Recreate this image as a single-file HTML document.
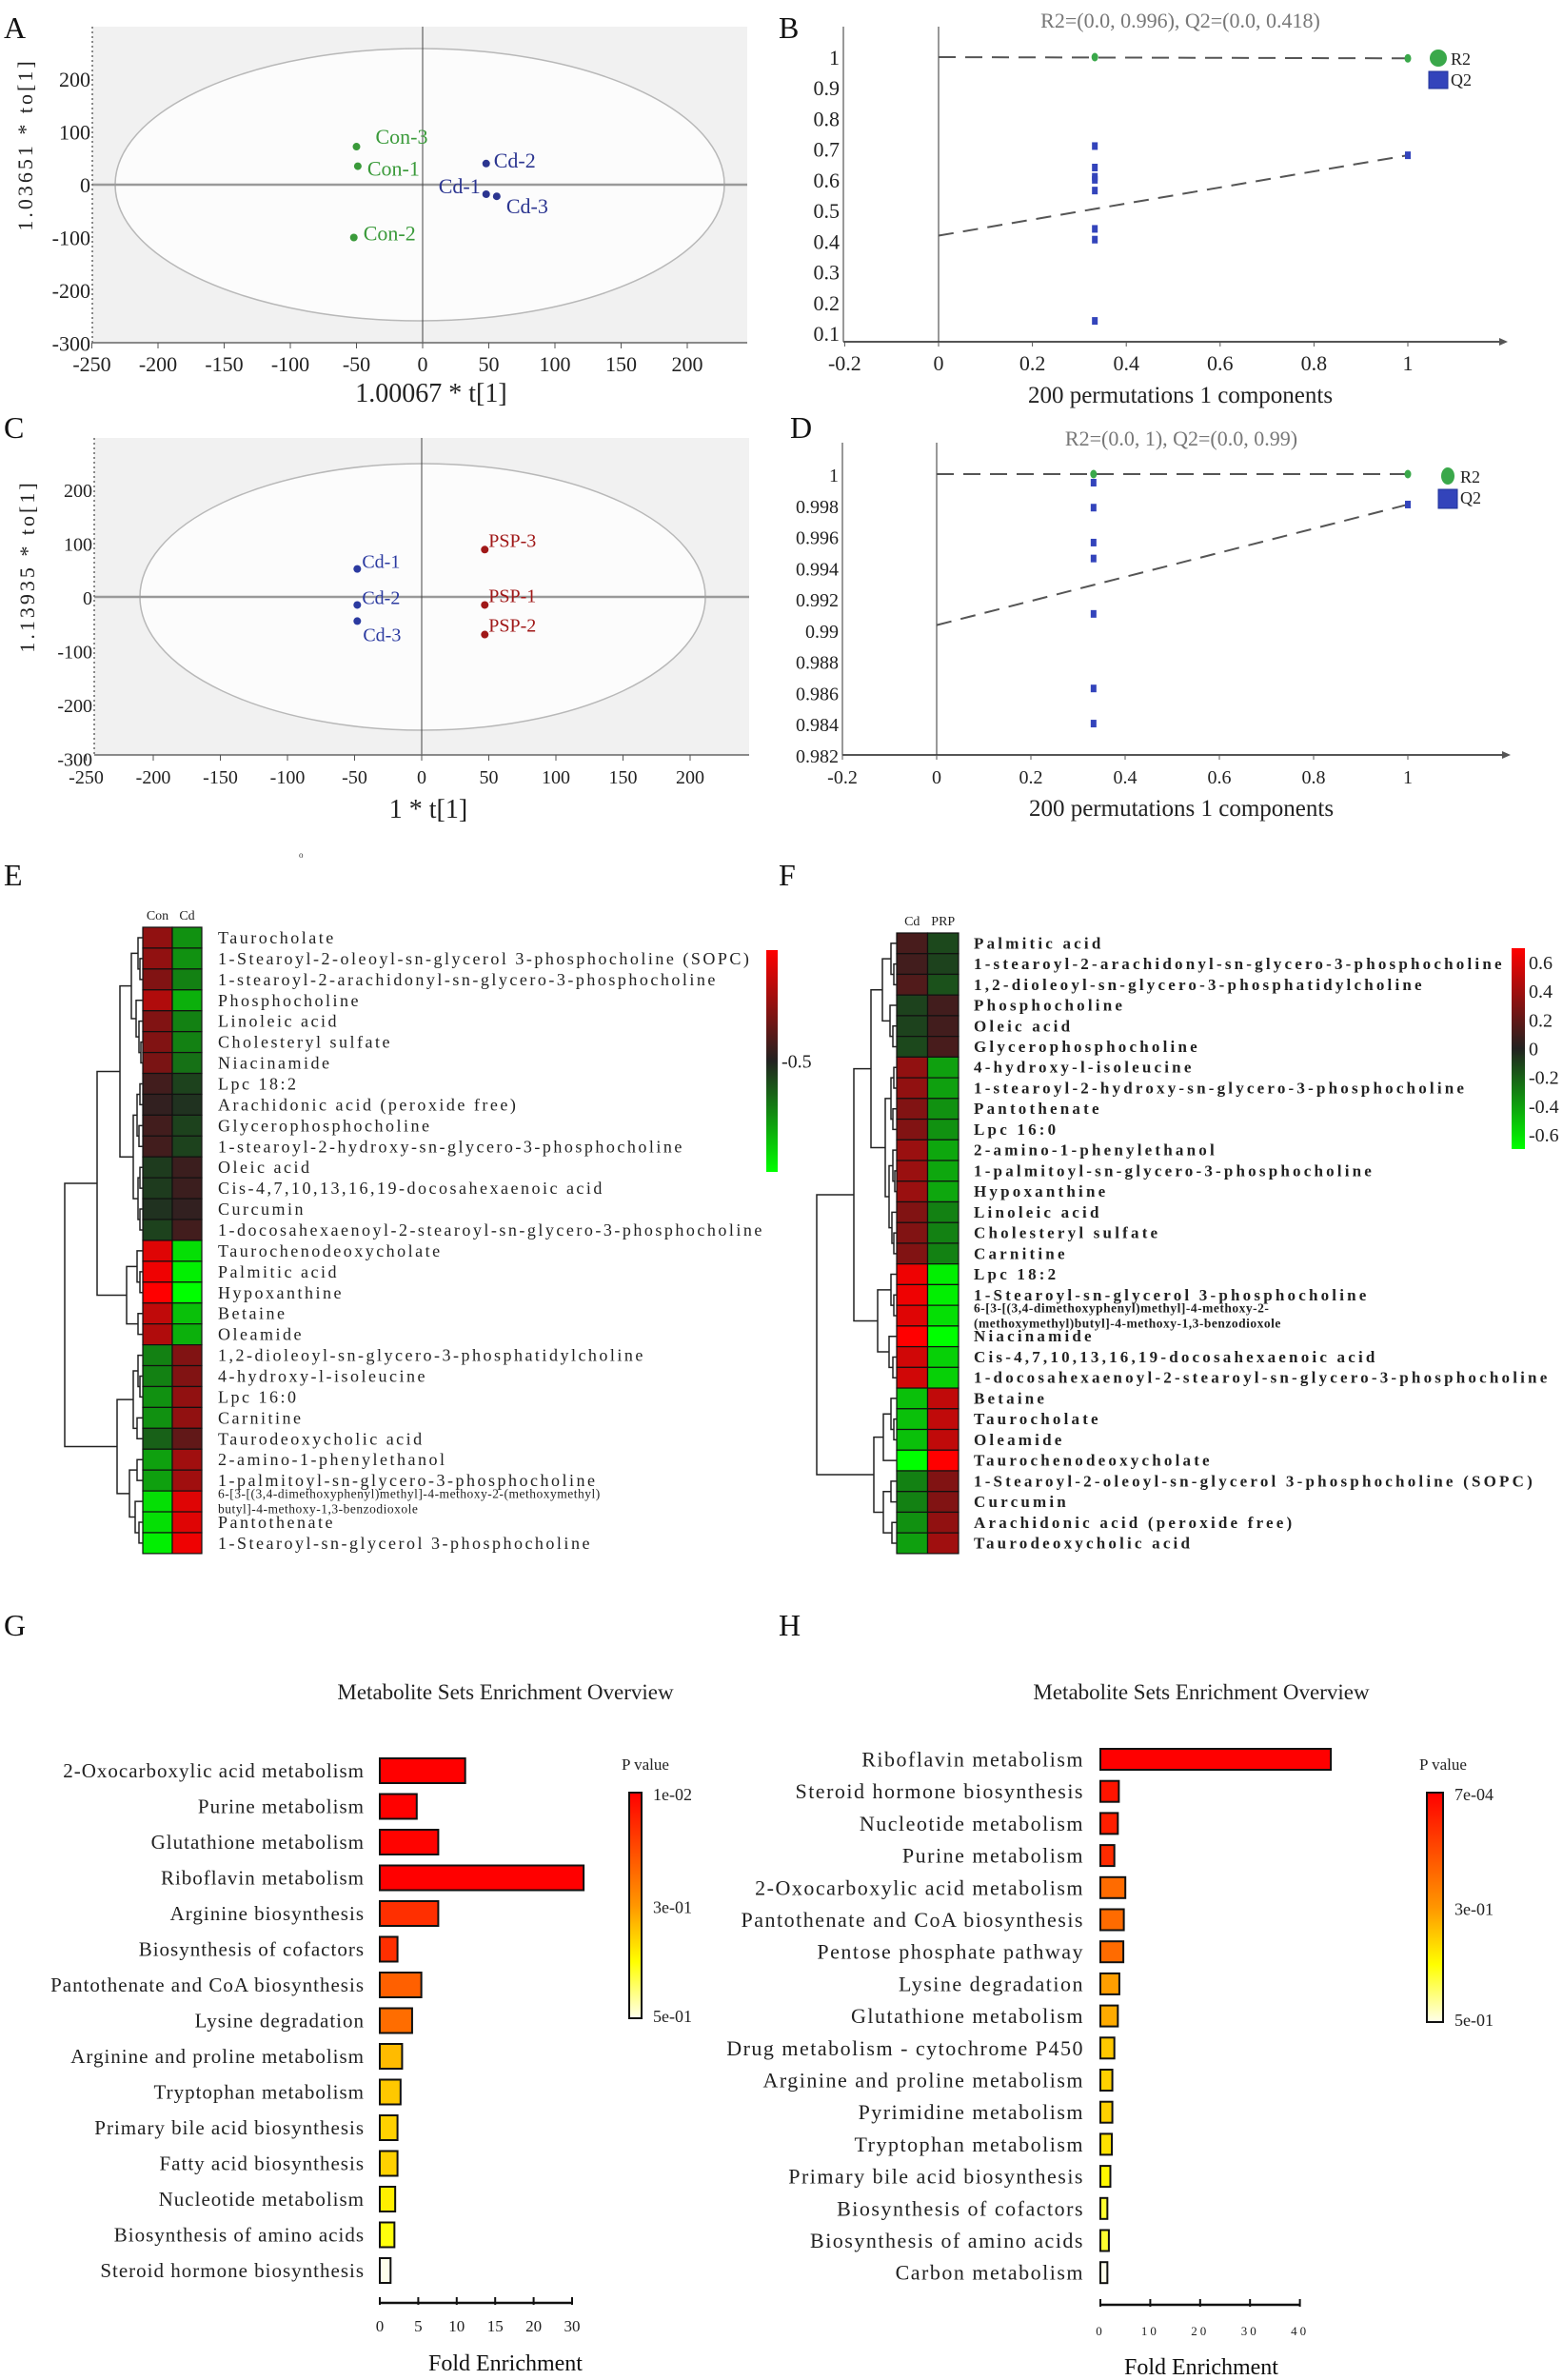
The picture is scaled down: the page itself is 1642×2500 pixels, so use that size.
<!DOCTYPE html>
<html><head><meta charset="utf-8"><title>Metabolomics figure</title>
<style>
html,body{margin:0;padding:0;background:#fff;}
svg{display:block;font-family:"Liberation Serif",serif;}
</style></head>
<body>
<svg id="fig" xmlns="http://www.w3.org/2000/svg" width="1642" height="2500" viewBox="0 0 1642 2500">
<defs>
<linearGradient id="gHeat" x1="0" y1="0" x2="0" y2="1">
<stop offset="0" stop-color="#ff0000"/><stop offset="0.5" stop-color="#222220"/><stop offset="1" stop-color="#00ff00"/>
</linearGradient>
<linearGradient id="gP" x1="0" y1="0" x2="0" y2="1">
<stop offset="0" stop-color="#ff0000"/><stop offset="0.5" stop-color="#ff9600"/><stop offset="0.75" stop-color="#ffff00"/><stop offset="1" stop-color="#ffffeb"/>
</linearGradient>
</defs>
<g font-size="32" fill="#111">
<text x="4" y="40">A</text>
<text x="818" y="40">B</text>
<text x="4" y="460">C</text>
<text x="830" y="460">D</text>
<text x="4" y="930">E</text>
<text x="818" y="930">F</text>
<text x="4" y="1718">G</text>
<text x="818" y="1718">H</text>
</g>
<text x="314" y="901" font-size="9" fill="#333">o</text>
</svg>
<script>
// ---------- DATA ----------
// Panel A (OPLS-DA scores)
const aLabels=['Con-3','Con-1','Con-2','Cd-2','Cd-1','Cd-3'];
const aX=[-50,-49,-52,48,48,56];
const aY=[72,35,-100,40,-18,-22];
const aGroup=['Con','Con','Con','Cd','Cd','Cd'];
const aXTicks=[-250,-200,-150,-100,-50,0,50,100,150,200];
const aYTicks=[200,100,0,-100,-200,-300];
// Panel C
const cLabels=['Cd-1','Cd-2','Cd-3','PSP-3','PSP-1','PSP-2'];
const cX=[-48,-48,-48,47,47,47];
const cY=[52,-15,-45,88,-15,-70];
const cGroup=['Cd','Cd','Cd','PSP','PSP','PSP'];
const cXTicks=[-250,-200,-150,-100,-50,0,50,100,150,200];
const cYTicks=[200,100,0,-100,-200,-300];
// Panel B (permutation)
const bR2X=[0.333,1];
const bR2Y=[1.0,0.996];
const bQ2X=[0.333,0.333,0.333,0.333,0.333,0.333,0.333,0.333,1];
const bQ2Y=[0.71,0.64,0.61,0.60,0.565,0.44,0.405,0.14,0.68];
const bR2Line=[1.0,0.996];
const bQ2Line=[0.418,0.68];
const bXTicks=[-0.2,0,0.2,0.4,0.6,0.8,1];
const bYTicks=[1,0.9,0.8,0.7,0.6,0.5,0.4,0.3,0.2,0.1];
// Panel D
const dR2X=[0.333,1];
const dR2Y=[1.0,1.0];
const dQ2X=[0.333,0.333,0.333,0.333,0.333,0.333,0.333,1];
const dQ2Y=[0.99945,0.99785,0.99561,0.99459,0.99104,0.98626,0.98401,0.99805];
const dR2Line=[1.0,1.0];
const dQ2Line=[0.99032,0.99805];
const dXTicks=[-0.2,0,0.2,0.4,0.6,0.8,1];
const dYTicks=[1,0.998,0.996,0.994,0.992,0.99,0.988,0.986,0.984,0.982];
// Panel E heatmap
const eNames=['Taurocholate','1-Stearoyl-2-oleoyl-sn-glycerol 3-phosphocholine (SOPC)','1-stearoyl-2-arachidonyl-sn-glycero-3-phosphocholine','Phosphocholine','Linoleic acid','Cholesteryl sulfate','Niacinamide','Lpc 18:2','Arachidonic acid (peroxide free)','Glycerophosphocholine','1-stearoyl-2-hydroxy-sn-glycero-3-phosphocholine','Oleic acid','Cis-4,7,10,13,16,19-docosahexaenoic acid','Curcumin','1-docosahexaenoyl-2-stearoyl-sn-glycero-3-phosphocholine','Taurochenodeoxycholate','Palmitic acid','Hypoxanthine','Betaine','Oleamide','1,2-dioleoyl-sn-glycero-3-phosphatidylcholine','4-hydroxy-l-isoleucine','Lpc 16:0','Carnitine','Taurodeoxycholic acid','2-amino-1-phenylethanol','1-palmitoyl-sn-glycero-3-phosphocholine','6-[3-[(3,4-dimethoxyphenyl)methyl]-4-methoxy-2-(methoxymethyl)|butyl]-4-methoxy-1,3-benzodioxole','Pantothenate','1-Stearoyl-sn-glycerol 3-phosphocholine'];
const eCon=[0.35,0.35,0.3,0.45,0.3,0.3,0.28,0.1,0.05,0.1,0.1,-0.08,-0.08,-0.05,-0.1,0.6,0.65,0.7,0.5,0.45,-0.3,-0.3,-0.35,-0.35,-0.2,-0.4,-0.4,-0.6,-0.6,-0.65];
const eCd=[-0.35,-0.35,-0.3,-0.45,-0.3,-0.3,-0.25,-0.1,-0.05,-0.1,-0.1,0.08,0.08,0.05,0.1,-0.6,-0.65,-0.7,-0.5,-0.45,0.3,0.3,0.35,0.35,0.2,0.4,0.4,0.6,0.6,0.65];
const eColumns=['Con','Cd'];
const eTree=[82,[48,[24,[12,[5,0,[3,1,2]],[7,3,[4,4,[2,5,6]]]],[10,[6,[3,7,8],[4,9,10]],[5,[3,11,12],[3,13,14]]]],[17,[6,15,[3,16,17]],[5,18,19]]],[27,[10,[5,20,[3,21,22]],[6,23,24]],[14,[6,25,26],[8,27,[4,28,29]]]]];
// Panel F heatmap
const fNames=['Palmitic acid','1-stearoyl-2-arachidonyl-sn-glycero-3-phosphocholine','1,2-dioleoyl-sn-glycero-3-phosphatidylcholine','Phosphocholine','Oleic acid','Glycerophosphocholine','4-hydroxy-l-isoleucine','1-stearoyl-2-hydroxy-sn-glycero-3-phosphocholine','Pantothenate','Lpc 16:0','2-amino-1-phenylethanol','1-palmitoyl-sn-glycero-3-phosphocholine','Hypoxanthine','Linoleic acid','Cholesteryl sulfate','Carnitine','Lpc 18:2','1-Stearoyl-sn-glycerol 3-phosphocholine','6-[3-[(3,4-dimethoxyphenyl)methyl]-4-methoxy-2-|(methoxymethyl)butyl]-4-methoxy-1,3-benzodioxole','Niacinamide','Cis-4,7,10,13,16,19-docosahexaenoic acid','1-docosahexaenoyl-2-stearoyl-sn-glycero-3-phosphocholine','Betaine','Taurocholate','Oleamide','Taurochenodeoxycholate','1-Stearoyl-2-oleoyl-sn-glycerol 3-phosphocholine (SOPC)','Curcumin','Arachidonic acid (peroxide free)','Taurodeoxycholic acid'];
const fCd=[0.12,0.1,0.15,-0.1,-0.1,-0.12,0.35,0.35,0.3,0.3,0.38,0.38,0.38,0.3,0.3,0.3,0.65,0.65,0.6,0.7,0.55,0.55,-0.5,-0.5,-0.5,-0.7,-0.3,-0.3,-0.35,-0.4];
const fPRP=[-0.12,-0.1,-0.15,0.1,0.1,0.12,-0.4,-0.4,-0.35,-0.35,-0.42,-0.42,-0.42,-0.3,-0.3,-0.3,-0.65,-0.65,-0.6,-0.7,-0.55,-0.55,0.5,0.5,0.5,0.7,0.3,0.3,0.35,0.4];
const fColumns=['Cd','PRP'];
const fTree=[84,[45,[27,[15,[6,0,[3,1,2]],[7,3,[4,4,5]]],[12,[6,[3,6,7],[4,8,9]],[8,[4,10,[2,11,12]],[5,13,[3,14,15]]]]],[20,[6,16,[3,17,18]],[8,19,[4,20,21]]]],[24,[14,[6,22,[3,23,24]],25],[14,[6,26,27],[5,28,29]]]];
const fScaleTicks=[0.6,0.4,0.2,0,-0.2,-0.4,-0.6];
// Panel G enrichment
const gNames=['2-Oxocarboxylic acid metabolism','Purine metabolism','Glutathione metabolism','Riboflavin metabolism','Arginine biosynthesis','Biosynthesis of cofactors','Pantothenate and CoA biosynthesis','Lysine degradation','Arginine and proline metabolism','Tryptophan metabolism','Primary bile acid biosynthesis','Fatty acid biosynthesis','Nucleotide metabolism','Biosynthesis of amino acids','Steroid hormone biosynthesis'];
const gFold=[11.1,4.8,7.6,33,7.6,2.3,5.4,4.2,2.9,2.7,2.3,2.3,2.0,1.9,1.4];
const gP=[0.01,0.012,0.015,0.01,0.1,0.1,0.195,0.22,0.335,0.348,0.356,0.356,0.385,0.405,0.5];
const gTicks=[0,5,10,15,20,30];
const gPLabels=['1e-02','3e-01','5e-01'];
// Panel H enrichment
const hNames=['Riboflavin metabolism','Steroid hormone biosynthesis','Nucleotide metabolism','Purine metabolism','2-Oxocarboxylic acid metabolism','Pantothenate and CoA biosynthesis','Pentose phosphate pathway','Lysine degradation','Glutathione metabolism','Drug metabolism - cytochrome P450','Arginine and proline metabolism','Pyrimidine metabolism','Tryptophan metabolism','Primary bile acid biosynthesis','Biosynthesis of cofactors','Biosynthesis of amino acids','Carbon metabolism'];
const hFold=[46.2,3.7,3.5,2.8,5.0,4.7,4.6,3.8,3.5,2.8,2.4,2.4,2.3,2.0,1.4,1.7,1.4];
const hP=[0.0007,0.04,0.06,0.087,0.215,0.215,0.215,0.308,0.32,0.348,0.356,0.356,0.372,0.392,0.42,0.42,0.5];
const hTicks=[0,10,20,30,40];
const hPLabels=['7e-04','3e-01','5e-01'];

// ---------- HELPERS ----------
const NS='http://www.w3.org/2000/svg';
const svg=document.getElementById('fig');
function mk(tag,attrs,parent){const e=document.createElementNS(NS,tag);for(const k in attrs)e.setAttribute(k,attrs[k]);(parent||svg).appendChild(e);return e;}
function tx(str,attrs,parent){const e=mk('text',attrs,parent);e.textContent=str;return e;}
function grp(name){const g=mk('g',{});return g;}
function heatColor(v){const t=Math.min(1,Math.abs(v)/0.7);const base=34;const hi=Math.round(base+221*t);const lo=Math.round(base*(1-t));return v>=0?`rgb(${hi},${lo},${lo})`:`rgb(${lo},${hi},${lo})`;}
function pColor(p,pmin){let t=p<=0.3?(p-pmin)/(0.3-pmin)*0.5:0.5+(p-0.3)/0.2*0.5;t=Math.max(0,Math.min(1,t));let r=255,g,b=0;
 if(t<=0.5){g=150*t/0.5;}else if(t<=0.75){g=150+105*(t-0.5)/0.25;}else{g=255;b=235*(t-0.75)/0.25;}
 return `rgb(${r},${Math.round(g)},${Math.round(b)})`;}

// ---------- SCORE PLOTS (A, C) ----------
function scorePlot(cfg){
 const g=grp(cfg.name);
 const sx=v=>cfg.x0+v*cfg.kx, sy=v=>cfg.y0-v*cfg.ky;
 const bg=mk('rect',{x:cfg.L,y:cfg.T,width:cfg.R-cfg.L,height:cfg.B-cfg.T,fill:'#f1f1f1'},g);
 
 
 const el=mk('ellipse',{cx:cfg.ecx,cy:cfg.ecy,rx:cfg.erx,ry:cfg.ery,fill:'#fcfcfc',stroke:'#b8b8b8','stroke-width':1.5},g);
 
 
 const hz=mk('line',{x1:cfg.L,x2:cfg.R,y1:sy(0),y2:sy(0),stroke:'#9a9a9a','stroke-width':2.5},g);
 
 
 const vt=mk('line',{x1:sx(0),x2:sx(0),y1:cfg.T,y2:cfg.B,stroke:'#444','stroke-width':1},g);
 
 
 const ax=mk('line',{x1:cfg.L,x2:cfg.R,y1:cfg.B,y2:cfg.B,stroke:'#666','stroke-width':1.5},g);
 
 
 const ay=mk('line',{x1:cfg.L,x2:cfg.L,y1:cfg.T,y2:cfg.B,stroke:'#666','stroke-width':1.5,'stroke-dasharray':'2 3'},g);
 
 
 cfg.xt.forEach(v=>{
  const t=mk('line',{x1:sx(v),x2:sx(v),y1:cfg.B,y2:cfg.B+6,stroke:'#555'},g);
  
  
  const l=tx(String(v),{x:sx(v),y:cfg.B+30,'text-anchor':'middle','font-size':cfg.fs,fill:'#222'},g);
  
  
 });
 cfg.yt.forEach(v=>{
  const l=tx(String(v),{x:cfg.L-2,y:sy(v)+8,'text-anchor':'end','font-size':cfg.fs,fill:'#222'},g);
  
  
 });
 cfg.xs.forEach((v,i)=>{
  const col=cfg.colors[cfg.grp[i]];
  const p=mk('circle',{cx:sx(v),cy:sy(cfg.ys[i]),r:4,fill:col},g);
  
  
  const o=cfg.off[i];
  const l=tx(cfg.labels[i],{x:sx(v)+o[0],y:sy(cfg.ys[i])+o[1]+7,'font-size':cfg.lfs,fill:col,'text-anchor':o[2]||'start'},g);
  
  
 });
 const xt=tx(cfg.xtitle,{x:cfg.xtx,y:cfg.B+cfg.xto,'text-anchor':'middle','font-size':28,fill:'#222'},g);
 
 
 const yt=tx(cfg.ytitle,{x:0,y:0,'text-anchor':'middle','font-size':22,'letter-spacing':3,fill:'#222',transform:`translate(${cfg.ytx},${cfg.yty}) rotate(-90)`},g);
 
 
}
scorePlot({name:'panel-a-score-plot',L:97,R:785,T:28,B:360,x0:444,kx:1.39,y0:194,ky:0.555,ecx:441,ecy:194,erx:320,ery:143,
 xt:aXTicks,yt:aYTicks,xs:aX,ys:aY,grp:aGroup,labels:aLabels,colors:{Con:'#3a9a3a',Cd:'#2b3590'},
 off:[[20,-10],[10,3],[10,-4],[8,-3],[-6,-8,'end'],[10,11]],fs:22,lfs:22,xtitle:'1.00067 * t[1]',xtx:453,xto:62,ytitle:'1.03651 * to[1]',ytx:34,yty:152});
scorePlot({name:'panel-c-score-plot',L:99,R:787,T:460,B:793,x0:443,kx:1.41,y0:627,ky:0.565,ecx:444,ecy:627,erx:297,ery:140,
 xt:cXTicks,yt:cYTicks,xs:cX,ys:cY,grp:cGroup,labels:cLabels,colors:{Cd:'#2b3aa0',PSP:'#a01818'},
 off:[[5,-8],[5,-8],[6,14],[4,-10],[4,-10],[4,-10]],fs:20,lfs:20,xtitle:'1 * t[1]',xtx:450,xto:66,ytitle:'1.13935 * to[1]',ytx:36,yty:595});

// ---------- PERMUTATION PLOTS (B, D) ----------
function permPlot(cfg){
 const g=grp(cfg.name);
 const sx=v=>cfg.x0+v*cfg.kx, sy=v=>cfg.yTop+(cfg.yMax-v)*cfg.ky;
 const t=tx(cfg.title,{x:cfg.tx,y:cfg.ty,'text-anchor':'middle','font-size':22,fill:'#777'},g);
 
 
 const ay=mk('line',{x1:cfg.L,x2:cfg.L,y1:cfg.T,y2:cfg.B,stroke:'#555','stroke-width':1.2},g);
 
 
 const ax=mk('line',{x1:cfg.L,x2:cfg.R,y1:cfg.B,y2:cfg.B,stroke:'#555','stroke-width':2},g);
 
 
 const ar=mk('path',{d:`M${cfg.R} ${cfg.B-4} L${cfg.R+9} ${cfg.B} L${cfg.R} ${cfg.B+4}Z`,fill:'#555'},g);
 
 
 const z=mk('line',{x1:sx(0),x2:sx(0),y1:cfg.T,y2:cfg.B,stroke:'#333','stroke-width':1},g);
 
 
 cfg.xt.forEach(v=>{
  const k=mk('line',{x1:sx(v),x2:sx(v),y1:cfg.B,y2:cfg.B+5,stroke:'#555'},g);
  
  
  const l=tx(String(v),{x:sx(v),y:cfg.B+30,'text-anchor':'middle','font-size':cfg.fs,fill:'#222'},g);
  
  
 });
 cfg.yt.forEach(v=>{
  const l=tx(String(v),{x:cfg.L-4,y:sy(v)+8,'text-anchor':'end','font-size':cfg.fs,fill:'#222'},g);
  
  
 });
 const r2=mk('line',{x1:sx(0),y1:sy(cfg.r2l[0]),x2:sx(1),y2:sy(cfg.r2l[1]),stroke:'#555','stroke-width':2,'stroke-dasharray':'18 10'},g);
 
 
 const q2=mk('line',{x1:sx(0),y1:sy(cfg.q2l[0]),x2:sx(1),y2:sy(cfg.q2l[1]),stroke:'#555','stroke-width':2,'stroke-dasharray':'16 10'},g);
 
 
 cfg.q2x.forEach((v,i)=>{
  const p=mk('rect',{x:sx(v)-3,y:sy(cfg.q2y[i])-4,width:6,height:8,fill:'#3344bb'},g);
  
  
 });
 cfg.r2x.forEach((v,i)=>{
  const p=mk('ellipse',{cx:sx(v),cy:sy(cfg.r2y[i]),rx:3.5,ry:4.5,fill:'#3aa84a'},g);
  
  
 });
 const lc=mk('ellipse',{cx:cfg.lx,cy:cfg.ly,rx:cfg.lrx,ry:9,fill:'#3aa84a'},g);
 
 
 const lt=tx('R2',{x:cfg.lx+13,y:cfg.ly+7,'font-size':18,fill:'#222'},g);
 
 
 const ls=mk('rect',{x:cfg.lx-10,y:cfg.ly+14,width:cfg.lsw,height:cfg.lsh,fill:'#3344bb',stroke:'#223399'},g);
 
 
 const lq=tx('Q2',{x:cfg.lx+13,y:cfg.ly+29,'font-size':18,fill:'#222'},g);
 
 
 const xt=tx('200 permutations 1 components',{x:cfg.tx,y:cfg.B+64,'text-anchor':'middle','font-size':25,fill:'#222'},g);
 
 
}
permPlot({name:'panel-b-permutation-plot',L:886,R:1575,T:28,B:359,x0:986,kx:493,yTop:60,yMax:1,ky:322.2,
 xt:bXTicks,yt:bYTicks,r2x:bR2X,r2y:bR2Y,q2x:bQ2X,q2y:bQ2Y,r2l:bR2Line,q2l:bQ2Line,fs:22,
 title:'R2=(0.0, 0.996), Q2=(0.0, 0.418)',tx:1240,ty:29,lx:1511,ly:61,lrx:9,lsw:20,lsh:18});
permPlot({name:'panel-d-permutation-plot',L:885,R:1578,T:465,B:793,x0:984,kx:495,yTop:498,yMax:1,ky:16389,
 xt:dXTicks,yt:dYTicks,r2x:dR2X,r2y:dR2Y,q2x:dQ2X,q2y:dQ2Y,r2l:dR2Line,q2l:dQ2Line,fs:20,
 title:'R2=(0.0, 1), Q2=(0.0, 0.99)',tx:1241,ty:468,lx:1521,ly:500,lrx:7,lsw:20,lsh:20});

// ---------- HEATMAPS (E, F) ----------
function heatmap(cfg){
 const g=grp(cfg.name);
 const rowY=i=>cfg.T+(i+0.5)*cfg.rh;
 cfg.cols.forEach((c,j)=>{
  const h=tx(c,{x:cfg.L+(j+0.5)*cfg.cw,y:cfg.T-8,'text-anchor':'middle','font-size':14,fill:'#222'},g);
  
  
 });
 cfg.names.forEach((n,i)=>{
  [cfg.v1,cfg.v2].forEach((arr,j)=>{
   const r=mk('rect',{x:cfg.L+j*cfg.cw,y:cfg.T+i*cfg.rh,width:cfg.cw,height:cfg.rh,fill:heatColor(arr[i]),stroke:'#111','stroke-width':1.2},g);
   
   
  });
  if(n.indexOf('|')>=0){
   const parts=n.split('|');
   parts.forEach((p,k)=>{
    const l=tx(p,{x:cfg.lx,y:rowY(i)+(k===0?-8:8),'dominant-baseline':'central','font-size':13.5,'letter-spacing':0.5,'font-weight':cfg.fw,fill:'#222'},g);
    
    
   });
  } else {
   const l=tx(n,{x:cfg.lx,y:rowY(i),'dominant-baseline':'central','font-size':cfg.fs,'letter-spacing':cfg.ls,'font-weight':cfg.fw,fill:'#222'},g);
   
   
  }
 });
 function draw(node){
  if(typeof node==='number')return {x:cfg.L,y:rowY(node)};
  const a=draw(node[1]),b=draw(node[2]);const x=cfg.L-node[0];
  const d=`M${a.x} ${a.y}H${x}V${b.y}H${b.x}`;
  const p=mk('path',{d:d,fill:'none',stroke:'#222','stroke-width':1.5},g);
  
  
  return {x:x,y:(a.y+b.y)/2};
 }
 draw(cfg.tree);
 const cb=mk('rect',{x:cfg.cbx,y:cfg.cby,width:cfg.cbw,height:cfg.cbh,fill:'url(#gHeat)'},g);
 
 
 cfg.cbTicks.forEach(t=>{
  const y=cfg.cby+cfg.cbh*(0.5-t[0]/cfg.cbRange*0.5);
  const l=tx(t[1],{x:cfg.cbx+cfg.cbw+4,y:y+7,'font-size':20,fill:'#222'},g);
  
  
 });
}
heatmap({name:'panel-e-heatmap',L:150,T:974,cw:31,rh:21.93,names:eNames,v1:eCon,v2:eCd,cols:eColumns,tree:eTree,
 lx:229,fs:18,ls:2.5,fw:'normal',cbx:805,cby:998,cbw:12,cbh:233,cbRange:1,cbTicks:[[0,'-0.5']]});
heatmap({name:'panel-f-heatmap',L:942,T:980,cw:32.5,rh:21.73,names:fNames,v1:fCd,v2:fPRP,cols:fColumns,tree:fTree,
 lx:1023,fs:17,ls:3.2,fw:'bold',cbx:1588,cby:996,cbw:14,cbh:211,cbRange:0.7,cbTicks:fScaleTicks.map(v=>[v,String(v)])});

// ---------- ENRICHMENT BARS (G, H) ----------
function enrich(cfg){
 const g=grp(cfg.name);
 const t=tx('Metabolite Sets Enrichment Overview',{x:cfg.tcx,y:1785,'text-anchor':'middle','font-size':23,fill:'#222'},g);
 
 
 cfg.names.forEach((n,i)=>{
  const y=cfg.y0+i*cfg.step;
  const b=mk('rect',{x:cfg.sx(0),y:y-cfg.bh/2,width:cfg.sx(cfg.vals[i])-cfg.sx(0),height:cfg.bh,fill:pColor(cfg.p[i],cfg.pmin),stroke:'#111','stroke-width':2},g);
  
  
  const l=tx(n,{x:cfg.lr,y:y,'text-anchor':'end','dominant-baseline':'central','font-size':cfg.fs,'letter-spacing':cfg.ls,fill:'#222'},g);
  
  
 });
 const ax=mk('line',{x1:cfg.sx(0),x2:cfg.sx(cfg.ticks[cfg.ticks.length-1]),y1:cfg.ay,y2:cfg.ay,stroke:'#111','stroke-width':2.5},g);
 
 
 cfg.ticks.forEach(v=>{
  const k=mk('line',{x1:cfg.sx(v),x2:cfg.sx(v),y1:cfg.ay-6,y2:cfg.ay+2,stroke:'#111','stroke-width':2},g);
  
  
  const l=tx(String(v),{x:cfg.sx(v),y:cfg.ay+cfg.tly,'text-anchor':'middle','font-size':cfg.tfs,'letter-spacing':cfg.tls,fill:'#222'},g);
  
  
 });
 const xt=tx('Fold Enrichment',{x:cfg.tcx,y:cfg.xty,'text-anchor':'middle','font-size':24,fill:'#111'},g);
 
 
 const pt=tx('P value',{x:cfg.cbx-8,y:1859,'font-size':17,fill:'#222'},g);
 
 
 const cb=mk('rect',{x:cfg.cbx,y:1883,width:cfg.cbw,height:cfg.cbh,fill:'url(#gP)',stroke:'#111','stroke-width':2},g);
 
 
 cfg.pl.forEach((s,i)=>{
  const l=tx(s,{x:cfg.cbx+cfg.cbw+12,y:1891+i*cfg.cbh/2-(i===2?4:0),'font-size':18,fill:'#222'},g);
  
  
 });
}
enrich({name:'panel-g-enrichment',names:gNames,vals:gFold,p:gP,pmin:0.01,ticks:gTicks,pl:gPLabels,
 sx:v=>v<=20?399+v*8.08:399+20*8.08+(v-20)*4.04,y0:1860,step:37.5,bh:26,lr:383,fs:21,ls:1,tcx:531,
 ay:2419,tly:30,tfs:17,tls:0,xty:2490,cbx:661,cbw:13,cbh:237});
enrich({name:'panel-h-enrichment',names:hNames,vals:hFold,p:hP,pmin:0.0007,ticks:hTicks,pl:hPLabels,
 sx:v=>1156+v*5.24,y0:1848,step:33.7,bh:22,lr:1139,fs:22,ls:1.5,tcx:1262,
 ay:2421,tly:32,tfs:13,tls:3,xty:2494,cbx:1499,cbw:17,cbh:241});
</script>
</body></html>
